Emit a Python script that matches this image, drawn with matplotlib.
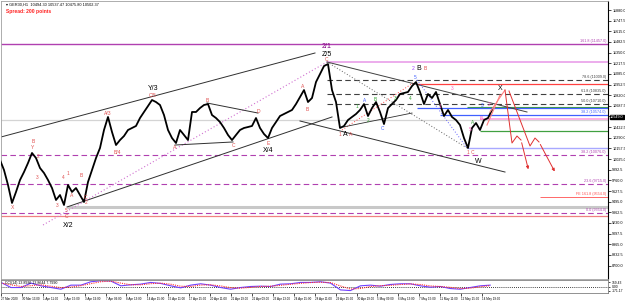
import matplotlib
matplotlib.use('Agg')
import matplotlib.pyplot as plt
import numpy as np

plt.rcParams['font.family'] = ['Liberation Sans', 'DejaVu Sans']

# ---------------- data ----------------
# hourly closes sampled every 4 bars (price units)
close = [10014, 9889, 9703, 9479, 9616, 9765, 9864, 9976, 10101, 10038, 9914, 9852,
         9765, 9665, 9516, 9578, 9454, 9703, 9616, 9665, 9578, 9491, 9740, 9889,
         10038, 10163, 10387, 10549, 10362, 10200, 10262, 10312, 10387, 10412, 10437, 10536,
         10611, 10685, 10760, 10735, 10698, 10573, 10387, 10287, 10225, 10387, 10325, 10262,
         10611, 10611, 10660, 10698, 10710, 10573, 10536, 10486, 10412, 10325, 10262, 10325,
         10387, 10412, 10424, 10437, 10536, 10412, 10337, 10287, 10412, 10486, 10561, 10586,
         10611, 10636, 10710, 10797, 10884, 10735, 10785, 10984, 11083, 11183, 11208, 10884,
         10735, 10412, 10437, 10511, 10549, 10586, 10636, 10710, 10561, 10660, 10735, 10611,
         10461, 10660, 10710, 10760, 10835, 10847, 10860, 10934, 10984, 10860, 10710, 10835,
         10785, 10860, 10710, 10561, 10636, 10549, 10511, 10449, 10287, 10163, 10412, 10474,
         10387, 10511, 10536, 10636]

cci = [144, -36, -36, 120, 24, -36, -96, 48, 48, 168, 204, 192, 24, 60, 84, 144, 108, 24,
       -48, 48, 96, 48, -36, -96, -36, 0, 12, 0, 84, 96, 144, 144, 168, 120, -120, -144,
       24, 48, 12, 72, 96, 96, 24, -24, 0, -72, -96, -36, 24, 48]
cci_signal = [120, 60, 0, 30, 60, 10, -40, -20, 30, 100, 170, 190, 120, 60, 60, 100, 120, 80,
              10, 0, 50, 60, 20, -40, -60, -30, 0, 10, 40, 80, 110, 140, 150, 140, 20, -90,
              -70, 0, 30, 40, 70, 90, 70, 20, 0, -30, -70, -60, -10, 30]

date_labels = ["27 Mar 2020", "30 Mar 13:00", "1 Apr 11:00", "2 Apr 15:00", "3 Apr 19:00",
               "7 Apr 09:00", "8 Apr 13:00", "14 Apr 15:00", "15 Apr 11:00", "17 Apr 15:00",
               "20 Apr 11:00", "21 Apr 19:00", "22 Apr 09:00", "23 Apr 13:00", "24 Apr 15:00",
               "28 Apr 11:00", "29 Apr 15:00", "30 Apr 19:00", "5 May 09:00", "6 May 13:00",
               "7 May 15:00", "11 May 11:00", "12 May 15:00", "14 May 19:00"]

price_ticks = [11880.0 - 132.5 * i for i in range(25)]
current_price = 10549.0

DASH = (0, (5, 3))
# (price, x_start, x_end, color, style, width, label)
levels = [
    (11457, 1, 608, '#b040b0', '-', 1.0, '161.8 (11457.0)'),
    (11233, 327, 608, '#eaa6ea', '-', 1.3, ''),
    (11009, 327, 608, '#404040', DASH, 0.8, '78.6 (11009.0)'),
    (10959, 417, 608, '#ff4040', '-', 0.9, ''),
    (10835, 327, 608, '#404040', DASH, 0.8, '61.8 (10835.0)'),
    (10710, 327, 608, '#404040', DASH, 0.8, '50.0 (10710.0)'),
    (10673, 467, 608, '#40a040', '-', 0.8, ''),
    (10660, 417, 608, '#4060ff', '-', 0.9, ''),
    (10574, 440, 608, '#4060ff', '-', 0.9, '38.2 (10574.0)'),
    (10524, 480, 608, '#ffa8e4', '-', 1.3, ''),
    (10511, 1, 608, '#d4d4d4', '-', 0.9, ''),
    (10375, 480, 608, '#40a040', '-', 0.9, ''),
    (10163, 467, 608, '#a8a8ff', '-', 1.0, ''),
    (10076, 1, 608, '#b040b0', DASH, 0.8, '38.2 (10076.0)'),
    (9715, 1, 608, '#b040b0', DASH, 0.8, '23.6 (9715.0)'),
    (9554, 540, 608, '#ff5050', '-', 0.6, 'FE 161.8 (9554.0)'),
    (9429, 67, 608, '#c8c8c8', '-', 2.2, ''),
    (9354, 1, 608, '#b040b0', DASH, 0.8, '0.0 (9354.0)'),
    (9317, 1, 608, '#f08080', '-', 0.9, ''),
]

# trend lines: (x0, p0, x1, p1, color, style, width)
trendlines = [
    (1, 10300, 315, 11345, '#303030', '-', 0.7),
    (67, 9429, 332, 10549, '#303030', '-', 0.7),
    (43, 9205, 327, 11233, '#d070d0', (0, (1, 2)), 0.8),
    (327, 11233, 527, 10611, '#404040', '-', 0.7),
    (300, 10499, 505, 9864, '#303030', '-', 0.7),
    (327, 11233, 467, 10163, '#606060', (0, (1, 2)), 0.7),
    (417, 11009, 467, 10163, '#6060ff', (0, (1, 2)), 0.7),
    (342, 10387, 413, 10972, '#ff4040', (0, (1, 2)), 0.7),
    (207, 10723, 258, 10598, '#303030', '-', 0.7),
    (175, 10200, 233, 10238, '#303030', '-', 0.7),
    (343, 10424, 412, 10598, '#303030', '-', 0.6),
]

proj_x1 = [505, 512, 517, 521, 529]
proj_p1 = [10884, 10225, 10312, 10262, 9864]
proj_x2 = [509, 530, 535, 539, 556]
proj_p2 = [10872, 10188, 10287, 10238, 9840]
up_legs = [(490, 10611, 505, 10884), (487, 10449, 500, 10822)]

# wave labels: (x, price, text, color, size)
wave_labels = [
    (327, 11432, '2/1', '#800080', 5.0), (327, 11332, 'Z/5', 'black', 5.0),
    (327, 11265, 'C', '#e05050', 3.6),
    (153, 10909, 'Y/3', 'black', 5.0), (153, 10822, 'C/5', '#e05050', 3.6),
    (68, 9193, 'X/2', 'black', 5.0), (67, 9305, 'C', '#e05050', 3.6),
    (66, 9385, '5', '#e05050', 3.4),
    (268, 10138, 'X/4', 'black', 5.0), (268, 10225, 'E', '#e05050', 3.6),
    (478, 10000, 'W', 'black', 5.0), (471, 10101, '1 C', '#e05050', 3.4),
    (500, 10905, 'X', 'black', 5.0),
    (419, 11158, 'B', 'black', 5.0), (413, 11158, '2', '#a040ff', 3.6),
    (425, 11158, 'B', '#e05050', 3.6),
    (345, 10337, 'A', 'black', 5.0), (351, 10337, 'A', '#e05050', 3.6),
    (340, 10337, '1', '#e05050', 3.4),
    (108, 10598, 'A/3', '#e05050', 3.6), (117, 10113, 'B/4', '#e05050', 3.6),
    (207, 10760, 'B', '#e05050', 3.6), (258, 10623, 'D', '#e05050', 3.6),
    (234, 10188, 'C', '#e05050', 3.6), (175, 10163, 'A', '#e05050', 3.6),
    (33, 10238, 'B', '#e05050', 3.6), (33, 10163, 'Y', '#e05050', 3.6),
    (38, 10051, '2', '#e05050', 3.4), (13, 9417, 'X', '#e05050', 3.6),
    (72, 9578, 'A', '#e05050', 3.6), (63, 9790, '4', '#e05050', 3.4),
    (68, 9840, '1', '#e05050', 3.4), (81, 9827, 'B', '#e05050', 3.6),
    (86, 9553, 'C', '#e05050', 3.6), (86, 9479, '2', '#e05050', 3.4),
    (57, 9442, '3', '#e05050', 3.4), (37, 9790, '3', '#e05050', 3.4),
    (303, 10922, 'A', '#e05050', 3.6), (307, 10636, 'B', '#e05050', 3.6),
    (365, 10760, 'A', '#4060ff', 3.4), (375, 10772, 'B', '#30a030', 3.4),
    (382, 10400, 'C', '#4060ff', 3.4), (395, 10785, '3', '#30a030', 3.4),
    (410, 10785, '4', '#30a030', 3.4), (415, 11035, '5', '#4060ff', 3.4),
    (357, 10680, '1', '#30a030', 3.4), (368, 10510, '2', '#30a030', 3.4),
    (473, 10486, 'A', '#30a030', 3.4), (481, 10536, 'B', '#ff60c0', 3.4),
    (482, 10690, '3', '#4060ff', 3.4), (489, 10700, '2', '#ff60c0', 3.4),
    (440, 10680, '1', '#ff60c0', 3.4), (452, 10900, '3', '#ff60c0', 3.4),
    (470, 10390, '5', '#ff60c0', 3.4),
]

# ---------------- figure ----------------
W, H = 625, 301
fig = plt.figure(figsize=(W / 100, H / 100), dpi=100)
fig.patch.set_facecolor('white')


def rect(x0, y0, x1, y1):
    return [x0 / W, 1 - y1 / H, (x1 - x0) / W, (y1 - y0) / H]


ax = fig.add_axes(rect(1, 1, 608, 279))
axo = fig.add_axes(rect(1, 280, 608, 293))

ax.set_xlim(1, 608)
ax.set_ylim(8533, 11992)

for p, x0, x1, c, ls, lw, lab in levels:
    ax.hlines(p, x0, x1, colors=c, linestyles=ls, linewidth=lw, zorder=1)
    if lab:
        ax.text(606, p + 15, lab, color=c, fontsize=2.7, ha='right', va='bottom', zorder=5)

for x0, p0, x1, p1, c, ls, lw in trendlines:
    ax.plot([x0, x1], [p0, p1], color=c, linestyle=ls, linewidth=lw, zorder=2)

xs = np.arange(len(close)) * 4
ax.plot(xs, close, color='black', linewidth=1.3, zorder=3)

for x0, p0, x1, p1 in up_legs:
    ax.plot([x0, x1], [p0, p1], color='#ff8080', linewidth=0.8, zorder=4)
for px, pp in ((proj_x1, proj_p1), (proj_x2, proj_p2)):
    ax.plot(px[:-1], pp[:-1], color='#e03030', linewidth=0.7, zorder=4)
    ax.annotate('', xy=(px[-1], pp[-1]), xytext=(px[-2], pp[-2]),
                arrowprops=dict(arrowstyle='-|>', color='#e03030', lw=0.7,
                                mutation_scale=4), zorder=4)

for x, p, t, c, s in wave_labels:
    ax.text(x, p, t, color=c, fontsize=s, ha='center', va='center', zorder=6)

ax.yaxis.tick_right()
ax.set_yticks(price_ticks)
# the current-price box covers the tick label next to it (as in the terminal)
ax.set_yticklabels(['' if abs(v - current_price) < 66 else f"{v:.1f}" for v in price_ticks])
ax.tick_params(axis='y', labelsize=2.7, length=2, pad=1, width=0.5)
ax.set_xticks([])
for s in ['top', 'left', 'bottom']:
    ax.spines[s].set_color('#a0a0a0')
    ax.spines[s].set_linewidth(0.6)
ax.spines['right'].set_color('black')
ax.spines['right'].set_linewidth(0.8)

# current price marker
ax.text(610, current_price, f"{current_price:.1f}", fontsize=2.7, color='white',
        ha='left', va='center',
        bbox=dict(boxstyle='square,pad=0.1', fc='black', ec='black'), clip_on=False, zorder=7)

# header
fig.text(6 / W, 1 - 5 / H, '\u25be GER30,H1  10494.30 10537.47 10475.80 10502.37',
         fontsize=2.8, color='black', ha='left', va='center')
fig.text(6 / W, 1 - 12 / H, 'Spread: 200 points', fontsize=3.6, color='#ff2020',
         fontweight='bold', ha='left', va='center')

# oscillator
xo = np.arange(len(cci)) * 10
axo.set_xlim(1, 608)
axo.set_ylim(-230, 230)
axo.axhline(0, color='black', linestyle=(0, (1, 1.5)), linewidth=0.6)
axo.plot(xo, cci, color='#7040ff', linewidth=0.8)
axo.plot(xo, cci_signal, color='#ff3030', linestyle=(0, (1, 1)), linewidth=0.8)
axo.text(4, 200, 'CCI(14) 13.8936 13.8644 7.7990', fontsize=2.6, ha='left', va='top')
axo.yaxis.tick_right()
axo.set_yticks([150, 0, -150])
axo.set_yticklabels(['159.43', '0.00', '-171.17'])
axo.tick_params(axis='y', labelsize=2.4, length=1.5, pad=1, width=0.5)
date_pos = [i * 20.95 for i in range(len(date_labels))]
axo.set_xticks(date_pos)
axo.set_xticklabels(date_labels, ha='left')
axo.tick_params(axis='x', labelsize=2.2, length=2, pad=1, width=0.5)
for s in axo.spines.values():
    s.set_color('#808080')
    s.set_linewidth(0.6)

fig.savefig('out.png', dpi=100)
